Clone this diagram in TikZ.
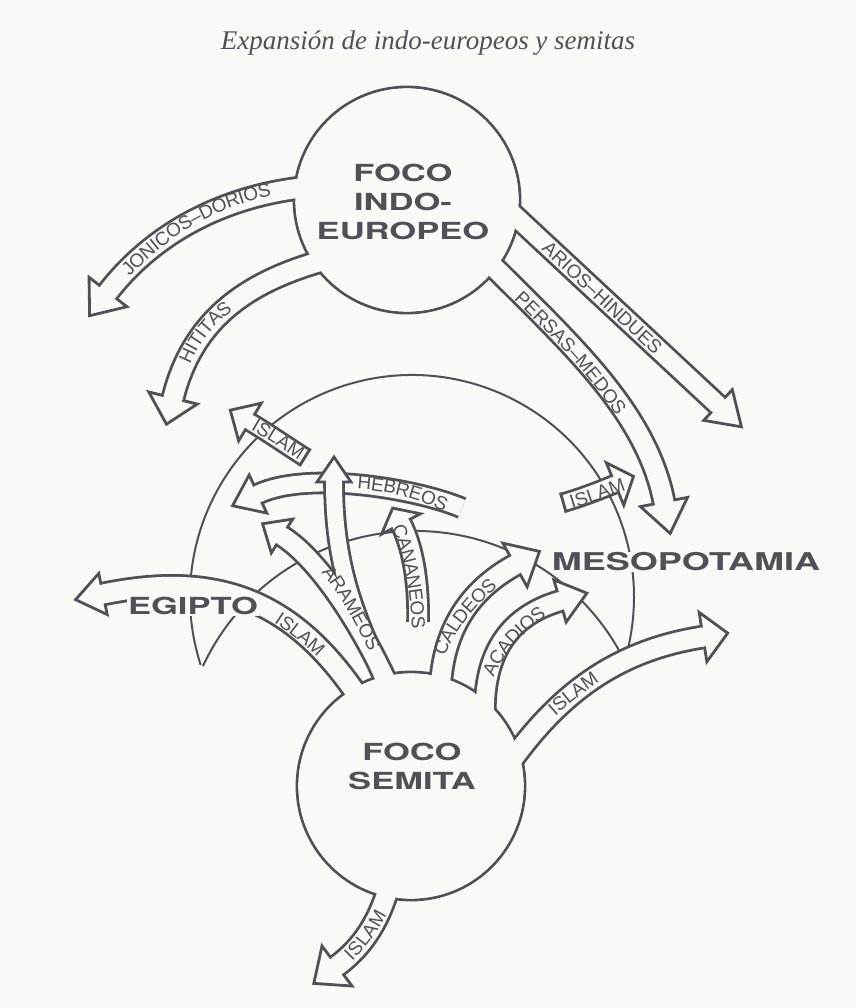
\documentclass[tikz,border=0pt]{standalone}
\usepackage{fontspec}
\setmainfont{Liberation Serif}
\newfontfamily\labfont{Liberation Sans}
\newfontfamily\bigfont[FakeStretch=1.47]{TeX Gyre Heros}
\usetikzlibrary{decorations.markings,decorations.text}
\definecolor{ink}{RGB}{80,80,88}
\definecolor{bg}{RGB}{249,249,245}
\newcommand\lab{\labfont\fontsize{19}{19}\selectfont}
\newcommand\bigtext{\bigfont\bfseries\fontsize{23.5}{29}\selectfont}
\tikzset{
  bo/.style={draw=ink, line width=#1},
  bi/.style={draw=bg, line width=#1},
  ahead/.style n args={3}{postaction={decorate, decoration={markings,
     mark=at position 0.99999 with {\draw[ink, fill=bg, line width=2.8pt, line join=miter]
       (-1,#1) -- (0,#1) -- (0,#2) -- (#3,0) -- (0,-#2) -- (0,-#1) -- (-1,-#1);}}}},
  tcap/.style={postaction={decorate, decoration={markings,
     mark=at position 1.4pt with {\draw[ink, line width=2.8pt] (0,#1) -- (0,-#1);}}}},
  lab/.style={decorate, decoration={text along path, text={|\lab|#1},
     text align=center, raise=-6.8pt, text color=ink}},
  thinarc/.style={draw=ink, line width=2pt},
  ring/.style={draw=ink, line width=2.8pt},
  bigtxt/.style={text=ink, font=\bigtext, align=center, inner sep=1pt},
}
% band centre lines
\def\pJon{(325,186) .. controls (240,190) and (160,225) .. (108,292)}
\def\pHit{(345,255) .. controls (260,275) and (195,310) .. (173,398)}
\def\pAri{(470,174) -- (718,405)}
\def\pPer{(470,243) .. controls (560,335) and (645,405) .. (664,502)}
\def\pEgi{(370,715) .. controls (300,600) and (220,570) .. (103,594)}
\def\pAraA{(395,700) .. controls (365,630) and (320,560) .. (282,536)}
\def\pAraB{(392,700) .. controls (370,640) and (334,590) .. (334,482)}
\def\pCal{(440,700) .. controls (440,630) and (470,590) .. (515,565)}
\def\pAca{(485,720) .. controls (482,650) and (512,615) .. (560,601)}
\def\pIsR{(505,770) .. controls (560,690) and (620,650) .. (703,637)}
\def\pIsB{(395,860) .. controls (385,915) and (365,945) .. (337,966)}
\def\pHeb{(462,508) .. controls (420,490) and (310,470) .. (258,494)}
\def\pCan{(418,622) .. controls (419,580) and (412,545) .. (401,524)}
\def\pIUL{(306,458) .. controls (290,448) and (270,434) .. (250,422)}
\def\pIMe{(562,503) .. controls (580,498) and (598,491) .. (615,484)}
\begin{document}
\begin{tikzpicture}[x=1pt,y=-1pt]
\useasboundingbox (0,0) rectangle (856,1008);
\fill[bg] (0,0) rectangle (856,1008);

\node[font=\fontsize{27}{27}\selectfont\itshape, text=ink, anchor=base] (title) at (428,50) {Expansión de indo-europeos y semitas};

% thin arcs of the semitic area
\draw[thinarc] (412,597) ++(162.2:222) arc[start angle=162.2, end angle=374, radius=222];
\draw[thinarc] (415,765) ++(-155:234) arc[start angle=-155, end angle=-29, radius=234];

% independent bands
\draw[bo=22.6pt] \pHeb; \draw[bi=17pt] \pHeb; \path[ahead={9.9}{21}{28}] \pHeb;
\draw[bo=23.6pt] \pCan; \draw[bi=18pt] \pCan; \path[ahead={10.4}{22}{18}] \pCan;
\draw[bo=20.6pt] \pIUL; \draw[bi=15pt] \pIUL; \path[ahead={8.9}{22}{23}, tcap=10.3] \pIUL;
\draw[bo=20.6pt] \pIMe; \draw[bi=15pt] \pIMe; \path[ahead={8.9}{23}{20}, tcap=10.3] \pIMe;

% foco indo-europeo
\draw[ring] (407,200) circle[radius=113];
\draw[bo=24.6pt] \pJon; \draw[bo=24.6pt] \pHit; \draw[bo=23.6pt] \pAri; \draw[bo=24.6pt] \pPer;
\draw[bi=19pt] \pJon; \draw[bi=19pt] \pHit; \draw[bi=18pt] \pAri; \draw[bi=19pt] \pPer;
\fill[bg] (407,200) circle[radius=111.6];
\path[ahead={10.9}{24}{30}] \pJon;
\path[ahead={10.9}{25}{27}] \pHit;
\path[ahead={10.4}{21}{32}] \pAri;
\path[ahead={10.9}{24}{32}] \pPer;

% foco semita
\draw[ring] (411,786) circle[radius=114];
\draw[bo=24.6pt] \pEgi; \draw[bo=23.6pt] \pAraA; \draw[bo=21.6pt] \pAraB;
\draw[bo=24.6pt] \pCal; \draw[bo=23.6pt] \pAca; \draw[bo=24.6pt] \pIsR; \draw[bo=24.6pt] \pIsB;
\draw[bi=19pt] \pEgi; \draw[bi=18pt] \pAraA; \draw[bi=16pt] \pAraB;
\draw[bi=19pt] \pCal; \draw[bi=18pt] \pAca; \draw[bi=19pt] \pIsR; \draw[bi=19pt] \pIsB;
\fill[bg] (411,786) circle[radius=112.6];
\path[ahead={10.9}{21}{28}] \pEgi;
\path[ahead={10.4}{20}{23}] \pAraA;
\path[ahead={9.4}{17}{25}] \pAraB;
\path[ahead={10.9}{25}{28}] \pCal;
\path[ahead={10.4}{22}{28}] \pAca;
\path[ahead={10.9}{25}{25}] \pIsR;
\path[ahead={10.9}{25}{29}] \pIsB;

% big names
\node[bigtxt] (fie) at (403,202) {FOCO\\INDO-\\EUROPEO};
\node[bigtxt] (fs) at (412,766) {FOCO\\SEMITA};
\node[bigtxt, fill=bg] (egi) at (193,606) {EGIPTO};
\node[bigtxt, fill=bg, font=\bigfont\bfseries\fontsize{24.5}{29}\selectfont] (meso) at (686,562) {MESOPOTAMIA};

% labels along the bands
\path[lab={JONICOS–DORIOS}] (108,292) .. controls (160,225) and (230,192) .. (296,186);
\path[lab={HITITAS}] (178,380) .. controls (188,345) and (205,318) .. (245,295);
\path[lab={ARIOS–HINDUES}] (495,197) -- (710,398);
\path[lab={PERSAS–MEDOS}] (505,282) .. controls (548,322) and (598,372) .. (632,428);
\path[lab={ISLAM}] (244,418) .. controls (265,430) and (290,445) .. (312,461);
\path[lab={ISLAM}] (558,506) .. controls (580,500) and (610,489) .. (636,480);
\path[lab={HEBREOS}] (352,482) .. controls (385,483) and (425,493) .. (452,508);
\path[lab={CANANEOS}] (395,518) .. controls (408,545) and (418,585) .. (419,636);
\path[lab={ARAMEOS}] (316,556) .. controls (340,580) and (365,625) .. (382,664);
\path[lab={ISLAM}] (255,603) .. controls (285,620) and (315,642) .. (340,672);
\path[lab={CALDEOS}] (433,668) .. controls (445,630) and (470,600) .. (505,572);
\path[lab={ACADIOS}] (482,692) .. controls (492,652) and (518,626) .. (558,600);
\path[lab={ISLAM}] (530,731) .. controls (555,706) and (585,681) .. (620,661);
\path[lab={ISLAM}] (330,972) .. controls (352,955) and (375,930) .. (390,890);
\end{tikzpicture}
\end{document}
